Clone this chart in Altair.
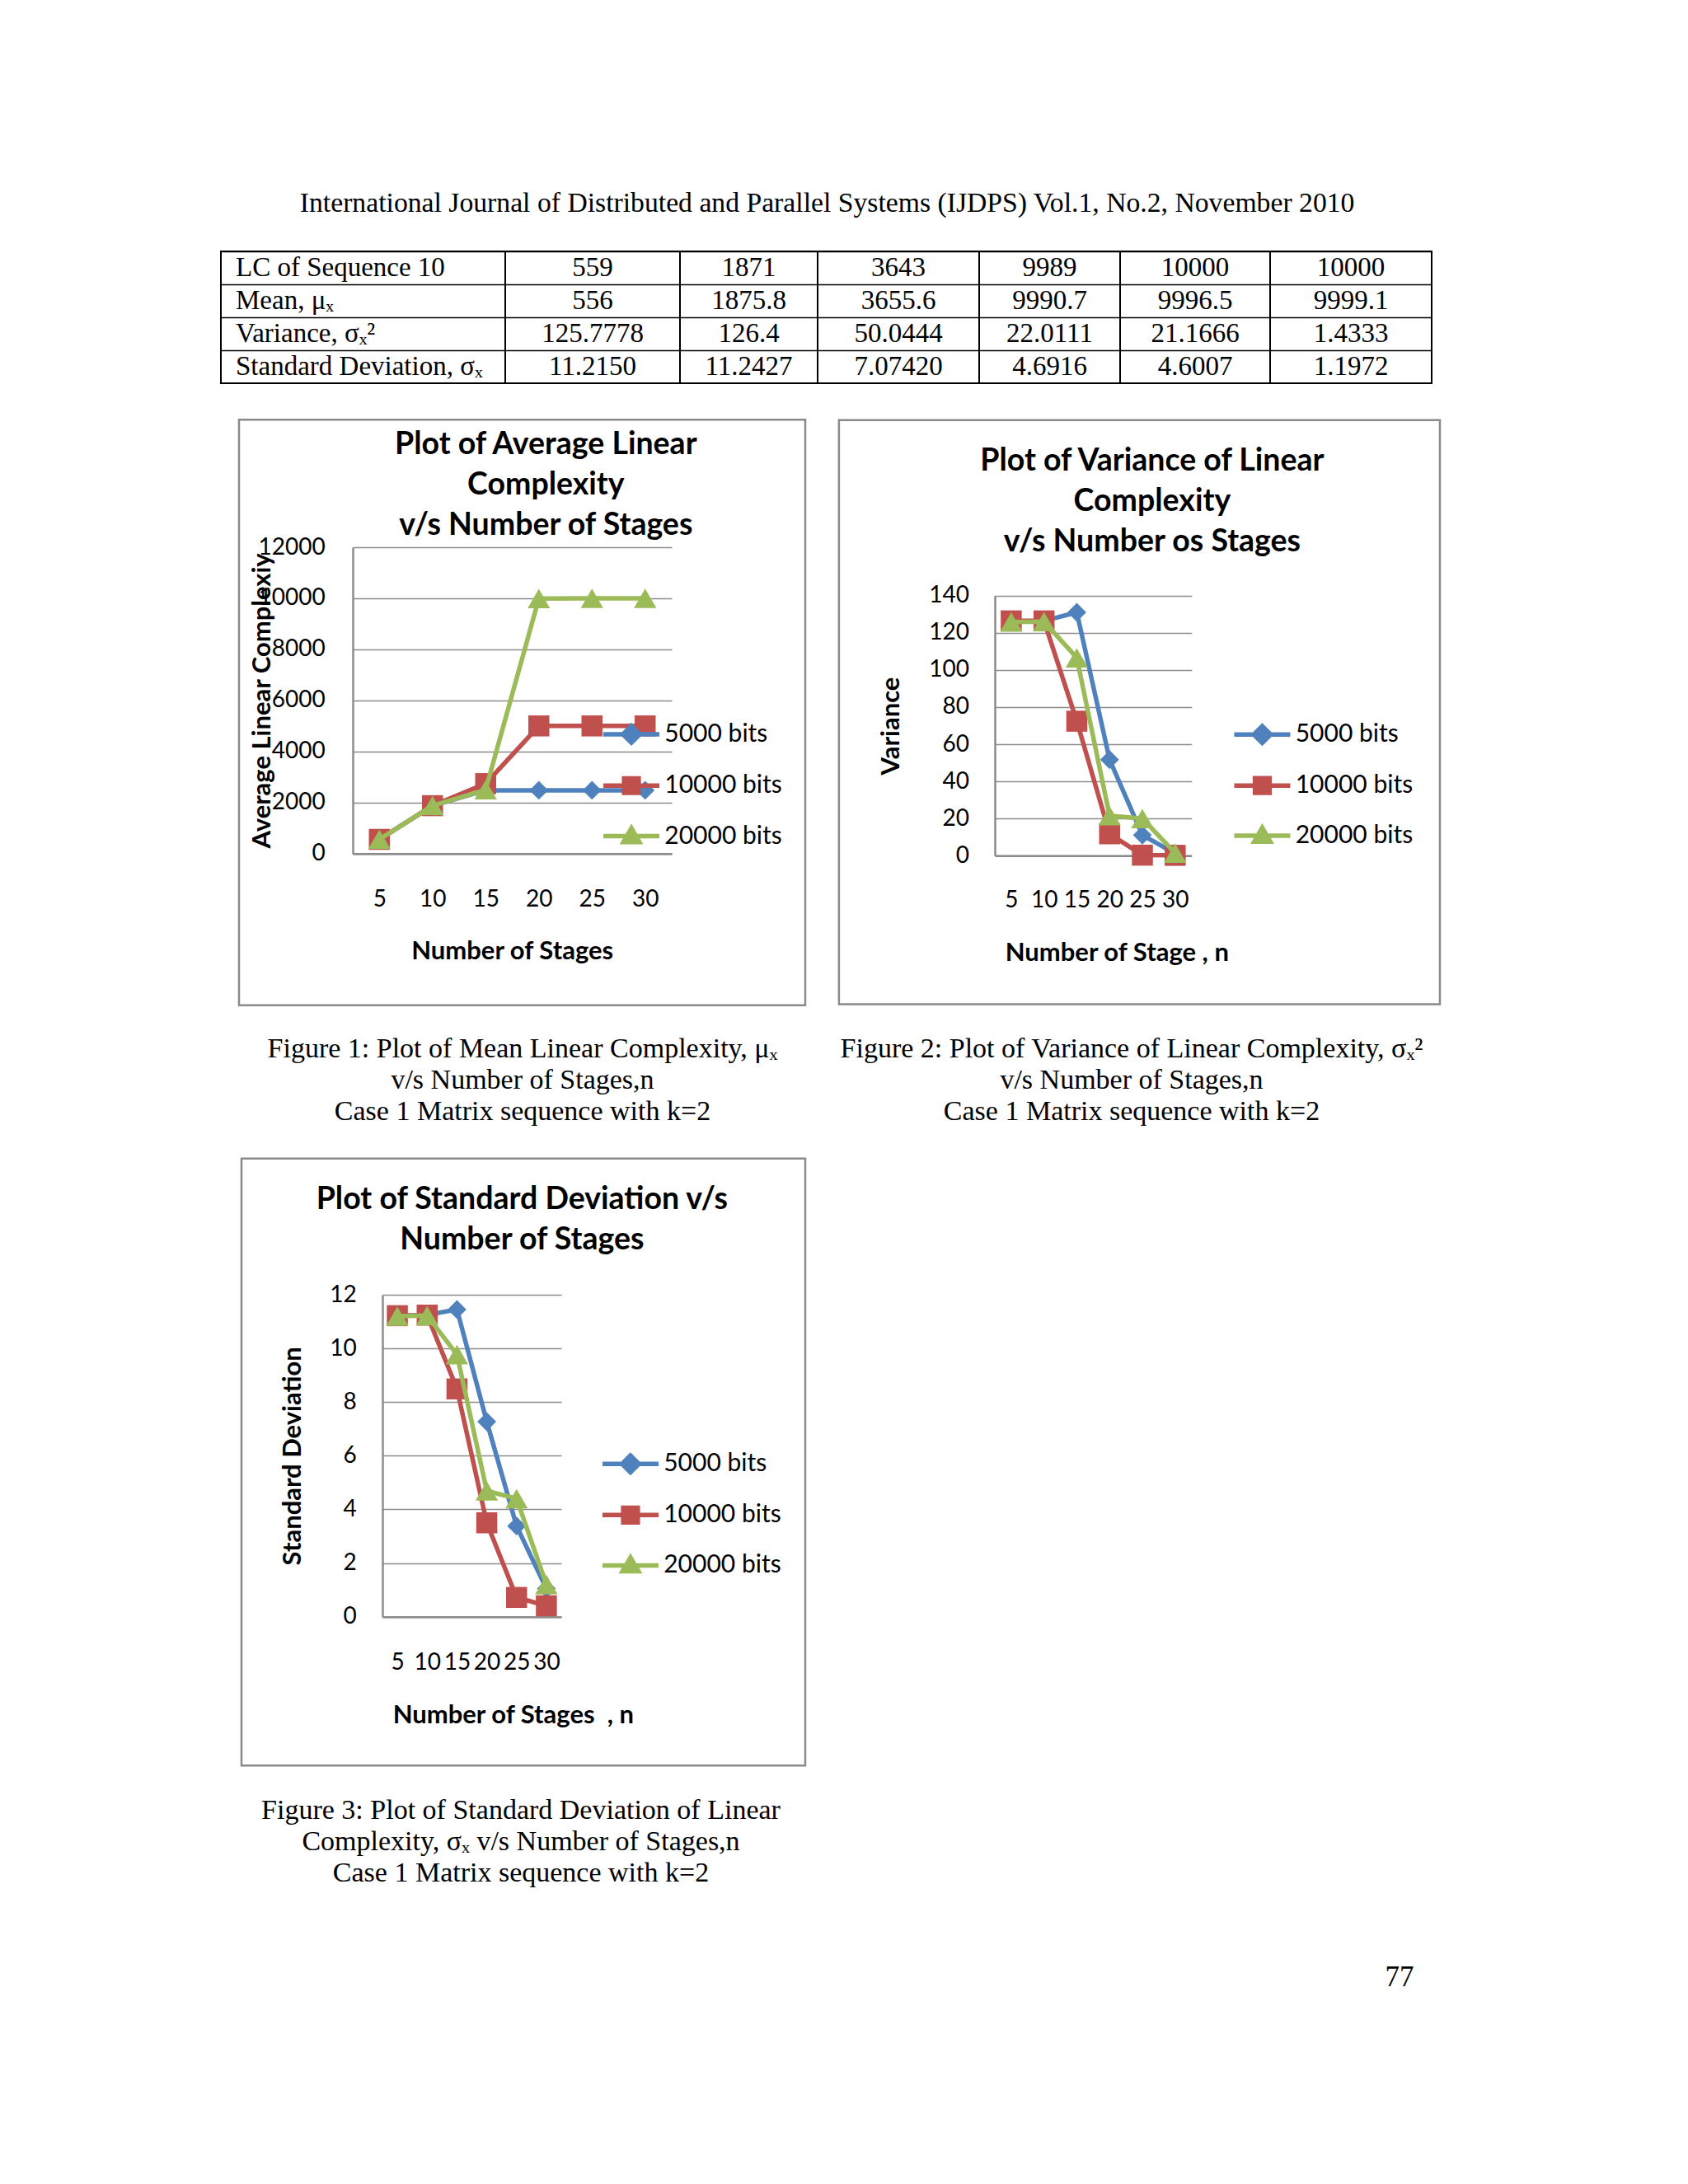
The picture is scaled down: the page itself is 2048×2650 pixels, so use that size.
import altair as alt
import pandas as pd

# ---------------- data ----------------
STAGES = [5, 10, 15, 20, 25, 30]
SERIES = ["5000 bits", "10000 bits", "20000 bits"]

MEAN_5000 = [556, 1876, 2480, 2480, 2480, 2480]
MEAN_10000 = [556, 1876, 2740, 5000, 5000, 5000]
MEAN_20000 = [556, 1876, 2500, 9991, 9997, 9999]

VAR_5000 = [125.8, 126.4, 131.0, 51.7, 11.1, 1.2]
VAR_10000 = [126.4, 126.4, 72.4, 11.8, 0.3, 0.2]
VAR_20000 = [125.8, 126.0, 106.5, 21.5, 20.0, 1.4]

STD_5000 = [11.22, 11.25, 11.45, 7.27, 3.38, 1.05]
STD_10000 = [11.22, 11.24, 8.49, 3.50, 0.72, 0.41]
STD_20000 = [11.20, 11.22, 9.77, 4.69, 4.40, 1.20]

ROW_LABELS = ["LC of Sequence 10", "Mean, μₓ", "Variance, σₓ²", "Standard Deviation, σₓ"]
ROW_LC = ["559", "1871", "3643", "9989", "10000", "10000"]
ROW_MEAN = ["556", "1875.8", "3655.6", "9990.7", "9996.5", "9999.1"]
ROW_VAR = ["125.7778", "126.4", "50.0444", "22.0111", "21.1666", "1.4333"]
ROW_STD = ["11.2150", "11.2427", "7.07420", "4.6916", "4.6007", "1.1972"]

HEADER = "International Journal of Distributed and Parallel Systems (IJDPS) Vol.1, No.2, November 2010"
CAP1 = ["Figure 1: Plot of Mean Linear Complexity, μₓ", "v/s Number of Stages,n", "Case 1 Matrix sequence with k=2"]
CAP2 = ["Figure 2: Plot of Variance of Linear Complexity, σₓ²", "v/s Number of Stages,n", "Case 1 Matrix sequence with k=2"]
CAP3 = ["Figure 3: Plot of Standard Deviation of Linear", "Complexity, σₓ v/s Number of Stages,n", "Case 1 Matrix sequence with k=2"]
PAGE_NO = "77"

# ---------------- styles / layout ----------------
SERIF = "Liberation Serif"
SANS = "Lato"
COLORS = ["#4F81BD", "#C0504D", "#9BBB59"]
SHAPES = ["diamond", "square", "triangle-up"]
SIZES = [520, 650, 740]
GRID = "#8C8C8C"
FRAME = "#8A8A8A"
LINE_W = 5.5
LEG_S = 34
LEG_E = LEG_S + LINE_W          # effective legend entry size
LEG_PATHS = [
    "M-2,0H2M-0.6,0L0,-0.6L0.6,0L0,0.6Z",
    "M-2,0H2M-0.52,-0.52H0.52V0.52H-0.52Z",
    "M-2,0H2M0,-0.57L0.57,0.42H-0.57Z",
]
ONE = alt.Data(values=[{"k": 0}])
PAGE_L = 8


def text_layer(lines, x, y, font, size, weight="normal", align="center",
               baseline="middle", lh=None, angle=None):
    kw = dict(font=font, fontSize=size, fontWeight=weight, align=align,
              baseline=baseline, color="black")
    if lh is not None:
        kw["lineHeight"] = lh
    if angle is not None:
        kw["angle"] = angle
    return alt.Chart(ONE).mark_text(**kw).encode(
        x=alt.value(x), y=alt.value(y), text=alt.value(lines))


def rect_layer(box, o, **mk):
    ox, oy = o
    return alt.Chart(ONE).mark_rect(**mk).encode(
        x=alt.value(box[0] - ox), x2=alt.value(box[2] - ox),
        y=alt.value(box[1] - oy), y2=alt.value(box[3] - oy))


def spacer():
    return alt.Chart(ONE).mark_rect(fill="transparent").encode(
        x=alt.value(0), x2=alt.value(1), y=alt.value(0), y2=alt.value(1)
    ).properties(width=1, height=1)


# ---------------- block A: header + table ----------------
TABLE_X = [268, 613, 825, 992, 1188, 1359, 1541, 1737]
TABLE_TOP, TABLE_H = 305, 160

spacer_a = alt.layer(
    rect_layer((PAGE_L, 8, TABLE_X[0], 490), (PAGE_L, TABLE_TOP), fill="transparent"),
    text_layer(HEADER, 1003.6 - PAGE_L, 257.4 - TABLE_TOP, SERIF, 33.7, baseline="alphabetic"),
).properties(width=TABLE_X[0] - PAGE_L, height=TABLE_H)

columns = [ROW_LABELS] + [[ROW_LC[j], ROW_MEAN[j], ROW_VAR[j], ROW_STD[j]] for j in range(6)]
table_charts = [spacer_a]
for i, vals in enumerate(columns):
    w = TABLE_X[i + 1] - TABLE_X[i]
    df = pd.DataFrame({"row": list(range(4)), "text": vals})
    col = alt.Chart(df).mark_text(font=SERIF, fontSize=33, color="black",
                                  align="left" if i == 0 else "center",
                                  baseline="middle").encode(
        x=alt.value(18 if i == 0 else w / 2),
        y=alt.Y("row:O",
                scale=alt.Scale(type="band", paddingInner=0, paddingOuter=0),
                axis=alt.Axis(grid=True, gridColor="black", gridWidth=1.6,
                              bandPosition=0, domain=False, ticks=False,
                              labels=False, title=None)),
        text="text:N",
    ).properties(width=w, height=TABLE_H,
                 view=alt.ViewBackground(stroke="black", strokeWidth=2))
    table_charts.append(col)

block_a = alt.hconcat(*table_charts, spacing=0, bounds="flush")


# ---------------- chart panels ----------------
def panel(p, ys):
    x0, y0 = p["origin"]
    xr, yb = p["plot_r"], p["plot_b"]
    W, H = xr - x0, yb - y0
    ytop = p["plot_t"] - y0
    o = (x0, y0)
    layers = [rect_layer(p["canvas"], o, fill="transparent"),
              rect_layer(p["frame"], o, filled=False, stroke=FRAME, strokeWidth=2.5)]
    tcx, tcy = p["title_c"]
    layers.append(text_layer(p["title"], tcx - x0, tcy - y0, SANS, 37.5, weight="bold", lh=49))
    ccx, ccy = p["cap_c"]
    layers.append(text_layer(p["caption"], ccx - x0, ccy - y0, SERIF, 34, lh=38))
    if "page" in p:
        px, py = p["page"]
        layers.append(text_layer(PAGE_NO, px - x0, py - y0, SERIF, 35))

    df = pd.DataFrame({
        "stage": STAGES * 3,
        "series": [s for s in SERIES for _ in STAGES],
        "value": ys[0] + ys[1] + ys[2],
    })
    xtx, xty = p["xtitle_c"]
    xenc = alt.X("stage:O", scale=alt.Scale(type="point", padding=0.5),
                 axis=alt.Axis(labelAngle=0, grid=False, domain=True, domainColor=GRID,
                               domainWidth=2.5, ticks=False, tickSize=0, labelOverlap=False,
                               labelFont=SANS, labelFontSize=28, labelColor="black",
                               labelPadding=p["xlabel_cy"] - yb - 12,
                               title=p["xtitle"], titleFont=SANS, titleFontSize=31,
                               titleFontWeight="bold", titleColor="black",
                               titleX=xtx - x0, titleY=xty - yb,
                               titleBaseline="middle", titleAlign="center"))
    yenc = alt.Y("value:Q",
                 scale=alt.Scale(domain=[0, p["ymax"]], nice=False, zero=True, range=[H, ytop]),
                 axis=alt.Axis(values=list(range(0, p["ymax"] + 1, p["ystep"])), format="d",
                               grid=True, gridColor=GRID, gridWidth=1.5,
                               domain=True, domainColor=GRID, domainWidth=2.5,
                               ticks=False, tickSize=0, labelFont=SANS, labelFontSize=28,
                               labelAngle=0, labelColor="black", labelPadding=x0 - p["ylabel_r"],
                               title=p["ytitle"], titleFont=SANS, titleFontSize=31,
                               titleFontWeight="bold", titleColor="black", titleAngle=270,
                               titleX=p["ytitle_cx"] - x0, titleY=(H + ytop) / 2,
                               titleBaseline="middle", titleAlign="center"))
    for i, s in enumerate(SERIES):
        sub = df[df["series"] == s]
        layers.append(alt.Chart(sub).mark_line(color=COLORS[i], strokeWidth=LINE_W,
                                               strokeJoin="round").encode(x=xenc, y=yenc))
        layers.append(alt.Chart(sub).mark_point(filled=True, opacity=1, shape=SHAPES[i],
                                                size=SIZES[i], color=COLORS[i]).encode(x=xenc, y=yenc))
    mx, my, step = p["legend"]
    leg = alt.Legend(orient="none", legendX=mx - x0 - LEG_E / 2, legendY=my - y0 - LEG_E / 2,
                     title=None, padding=0, labelFont=SANS, labelFontSize=30,
                     labelColor="black", symbolSize=LEG_S * LEG_S, symbolStrokeWidth=LINE_W,
                     labelOffset=LEG_S + 6 - LEG_E / 2, rowPadding=step - LEG_E - 1,
                     symbolOpacity=1)
    layers.append(
        alt.Chart(df).transform_filter("false").mark_point(filled=True, opacity=1).encode(
            x=xenc, y=yenc,
            fill=alt.Fill("series:N", scale=alt.Scale(domain=SERIES, range=COLORS), legend=leg),
            stroke=alt.Stroke("series:N", scale=alt.Scale(domain=SERIES, range=COLORS), legend=leg),
            shape=alt.Shape("series:N", scale=alt.Scale(domain=SERIES, range=LEG_PATHS), legend=leg),
        ))
    return alt.layer(*layers).properties(width=W, height=H)


P1 = dict(origin=(428, 664), plot_r=815.0, plot_b=1035.7, plot_t=664.0,
          frame=(290, 509.3, 977, 1219.7), canvas=(9, 490, 1000, 1390),
          title=["Plot of Average Linear", "Complexity", "v/s Number of Stages"],
          title_c=(662.3, 539.6), ymax=12000, ystep=2000,
          xtitle="Number of Stages", xtitle_c=(621.2, 1154.4),
          ytitle="Average Linear Complexiy", ytitle_cx=318.3,
          ylabel_r=394.2, xlabel_cy=1089.2, legend=(765.8, 890.7, 60.8),
          caption=CAP1, cap_c=(634, 1272.8))
P2 = dict(origin=(1207, 664), plot_r=1445.7, plot_b=1038.3, plot_t=722.7,
          frame=(1017.9, 509.8, 1747, 1218.6), canvas=(1000, 490, 2040, 1390),
          title=["Plot of Variance of Linear", "Complexity", "v/s Number os Stages"],
          title_c=(1397.9, 560.0), ymax=140, ystep=20,
          xtitle="Number of Stage , n", xtitle_c=(1354.8, 1156.8),
          ytitle="Variance", ytitle_cx=1081.4,
          ylabel_r=1175.6, xlabel_cy=1090.8, legend=(1531.2, 891.0, 60.4),
          caption=CAP2, cap_c=(1373, 1272.8))
P3 = dict(origin=(464, 1571), plot_r=681.0, plot_b=1961.7, plot_t=1571.0,
          frame=(293, 1405.8, 977, 2142.2), canvas=(9, 1390, 2040, 2642),
          title=["Plot of Standard Deviation v/s", "Number of Stages"],
          title_c=(633.4, 1455.8), ymax=12, ystep=2,
          xtitle="Number of Stages\u00a0 , n", xtitle_c=(622.3, 2081.6),
          ytitle="Standard Deviation", ytitle_cx=355.3,
          ylabel_r=432.3, xlabel_cy=2015.0, legend=(764.7, 1776.0, 60.6),
          caption=CAP3, cap_c=(632, 2197.0), page=(1698, 2399))

chart1 = panel(P1, [MEAN_5000, MEAN_10000, MEAN_20000])
chart2 = panel(P2, [VAR_5000, VAR_10000, VAR_20000])
chart3 = panel(P3, [STD_5000, STD_10000, STD_20000])

IND = dict(fill="independent", stroke="independent", shape="independent")

block_b = (alt.hconcat(spacer(), chart1, chart2, spacing=0)
           .resolve_scale(**IND).resolve_legend(**IND))
block_c = (alt.hconcat(spacer(), chart3, spacing=0)
           .resolve_scale(**IND).resolve_legend(**IND))

page = (alt.vconcat(block_a, block_b, block_c, spacing=0)
        .resolve_scale(**IND).resolve_legend(**IND)
        .properties(padding=0, background="white")
        .configure_view(stroke="transparent", strokeWidth=0)
        .configure_concat(spacing=0))

page.save("out.html", embed_options={"renderer": "svg", "actions": False})
